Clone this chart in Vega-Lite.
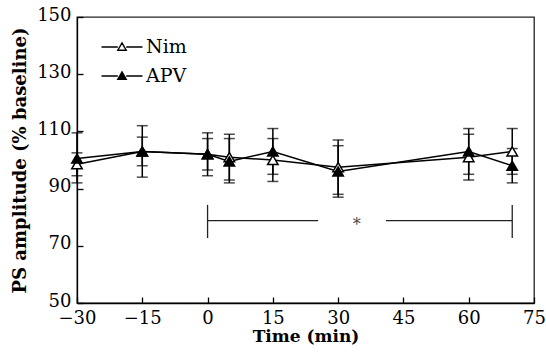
{
  "$schema": "https://vega.github.io/schema/vega-lite/v6.json",
  "width": 457,
  "height": 286,
  "autosize": "none",
  "padding": {"left": 77, "top": 17, "right": 12, "bottom": 49},
  "config": {
    "view": {"stroke": "#222", "strokeWidth": 1.3},
    "font": "DejaVu Serif",
    "axis": {
      "grid": false,
      "domainColor": "black",
      "domainWidth": 1.3,
      "tickColor": "black",
      "tickWidth": 1.3,
      "tickSize": -6,
      "labelColor": "black",
      "labelFont": "DejaVu Serif",
      "labelFontSize": 18,
      "labelFlush": false,
      "labelOverlap": false,
      "titleFont": "DejaVu Serif",
      "titleFontSize": 17,
      "titleFontWeight": "bold",
      "titleColor": "black"
    }
  },
  "datasets": {
    "series": [
      {"series": "Nim", "time": -30, "mean": 98.5, "lo": 94.5, "hi": 102.5},
      {"series": "Nim", "time": -15, "mean": 103, "lo": 98, "hi": 108},
      {"series": "Nim", "time": 0, "mean": 102, "lo": 96.5, "hi": 107.5},
      {"series": "Nim", "time": 5, "mean": 101, "lo": 93, "hi": 109},
      {"series": "Nim", "time": 15, "mean": 100, "lo": 92.5, "hi": 107.5},
      {"series": "Nim", "time": 30, "mean": 97.5, "lo": 88, "hi": 107},
      {"series": "Nim", "time": 60, "mean": 101, "lo": 93, "hi": 109},
      {"series": "Nim", "time": 70, "mean": 103, "lo": 95, "hi": 111},
      {"series": "APV", "time": -30, "mean": 100.5, "lo": 92, "hi": 109.5},
      {"series": "APV", "time": -15, "mean": 103, "lo": 94, "hi": 112},
      {"series": "APV", "time": 0, "mean": 102, "lo": 94.5, "hi": 109.5},
      {"series": "APV", "time": 5, "mean": 99.5, "lo": 92, "hi": 107.5},
      {"series": "APV", "time": 15, "mean": 103, "lo": 95, "hi": 111},
      {"series": "APV", "time": 30, "mean": 96, "lo": 87, "hi": 105},
      {"series": "APV", "time": 60, "mean": 103, "lo": 95, "hi": 111},
      {"series": "APV", "time": 70, "mean": 98, "lo": 92, "hi": 104}
    ],
    "hsegs": [
      {"x": 0, "x2": 25.4, "y": 78.8},
      {"x": 41, "x2": 70, "y": 78.8}
    ],
    "vsegs": [
      {"x": 0, "y": 72.7, "y2": 84.3},
      {"x": 70, "y": 72.7, "y2": 84.3}
    ],
    "star": [
      {"x": 34.3, "y": 78.8, "label": "*"}
    ]
  },
  "layer": [
    {
      "data": {"name": "hsegs"},
      "mark": {"type": "rule", "color": "#222", "strokeWidth": 1.3},
      "encoding": {
        "x": {"field": "x", "type": "quantitative",
          "scale": {"domain": [-30, 75], "nice": false, "zero": false},
          "axis": {"values": [-30, -15, 0, 15, 30, 45, 60, 75], "title": "Time (min)", "labelPadding": 12, "titlePadding": 1}},
        "x2": {"field": "x2"},
        "y": {"field": "y", "type": "quantitative",
          "scale": {"domain": [50, 150], "nice": false, "zero": false},
          "axis": {"values": [50, 70, 90, 110, 130, 150], "title": "PS amplitude (% baseline)", "titleFontSize": 18, "labelPadding": 12, "labelOffset": -2, "titlePadding": 7}}
      }
    },
    {
      "data": {"name": "vsegs"},
      "mark": {"type": "rule", "color": "#222", "strokeWidth": 1.3},
      "encoding": {
        "x": {"field": "x", "type": "quantitative"},
        "y": {"field": "y", "type": "quantitative"},
        "y2": {"field": "y2"}
      }
    },
    {
      "data": {"name": "star"},
      "mark": {"type": "text", "font": "DejaVu Serif", "fontSize": 16, "color": "#444", "dy": 4},
      "encoding": {
        "x": {"field": "x", "type": "quantitative"},
        "y": {"field": "y", "type": "quantitative"},
        "text": {"field": "label"}
      }
    },
    {
      "data": {"name": "series"},
      "mark": {"type": "rule", "color": "black", "strokeWidth": 1.5},
      "encoding": {
        "x": {"field": "time", "type": "quantitative"},
        "y": {"field": "lo", "type": "quantitative"},
        "y2": {"field": "hi"}
      }
    },
    {
      "data": {"name": "series"},
      "mark": {"type": "tick", "orient": "horizontal", "color": "black", "size": 11, "thickness": 1.5},
      "encoding": {
        "x": {"field": "time", "type": "quantitative"},
        "y": {"field": "lo", "type": "quantitative"}
      }
    },
    {
      "data": {"name": "series"},
      "mark": {"type": "tick", "orient": "horizontal", "color": "black", "size": 11, "thickness": 1.5},
      "encoding": {
        "x": {"field": "time", "type": "quantitative"},
        "y": {"field": "hi", "type": "quantitative"}
      }
    },
    {
      "data": {"name": "series"},
      "mark": {"type": "line", "color": "black", "strokeWidth": 1.5},
      "encoding": {
        "x": {"field": "time", "type": "quantitative"},
        "y": {"field": "mean", "type": "quantitative"},
        "detail": {"field": "series"}
      }
    },
    {
      "data": {"name": "series"},
      "mark": {"type": "point", "shape": "triangle-up", "filled": true, "stroke": "black", "strokeWidth": 1.5, "size": 110, "opacity": 1},
      "encoding": {
        "x": {"field": "time", "type": "quantitative"},
        "y": {"field": "mean", "type": "quantitative"},
        "order": {"field": "series", "sort": "descending"},
        "fill": {
          "field": "series", "type": "nominal",
          "scale": {"domain": ["Nim", "APV"], "range": ["white", "black"]},
          "legend": {
            "title": null,
            "orient": "none",
            "legendX": 34,
            "legendY": 19,
            "symbolType": "M-2.05,0H-0.42M0.42,0H2.05M0,-0.42L0.42,0.32L-0.42,0.32Z",
            "symbolSize": 400,
            "symbolStrokeColor": "black",
            "symbolStrokeWidth": 1.4,
            "labelFont": "DejaVu Serif",
            "labelFontSize": 19,
            "labelColor": "black",
            "labelOffset": 13,
            "rowPadding": 8
          }
        }
      }
    }
  ]
}
